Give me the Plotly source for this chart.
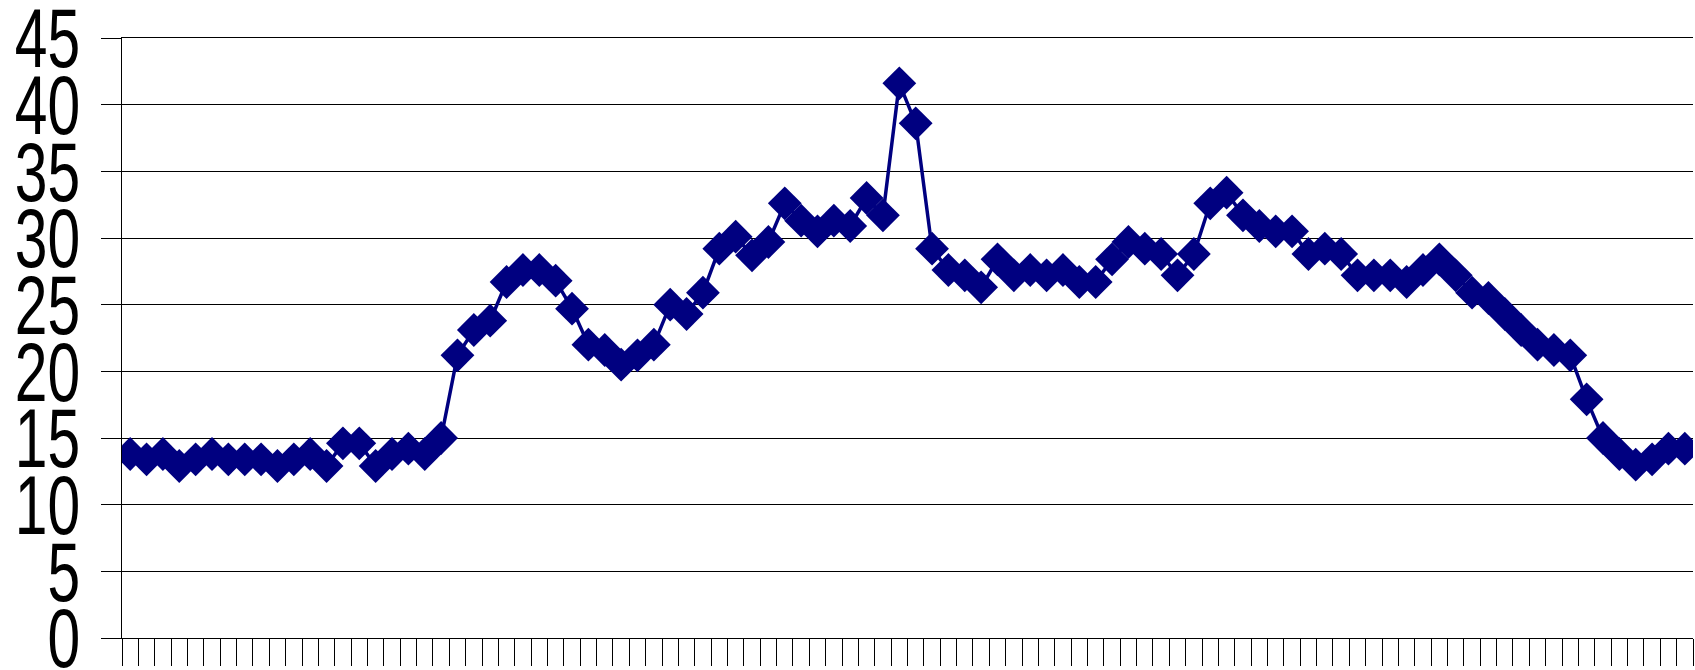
import plotly.graph_objects as go

# Category indices (96 unlabeled categories) and series values
categories = list(range(96))
values = [
    13.8, 13.4, 13.8, 12.9, 13.4, 13.8, 13.4, 13.4, 13.4, 12.9,
    13.4, 13.8, 12.9, 14.6, 14.6, 12.9, 13.8, 14.2, 13.8, 15.0,
    21.2, 23.1, 23.8, 26.7, 27.6, 27.6, 26.8, 24.7, 22.0, 21.6,
    20.5, 21.2, 22.0, 25.0, 24.3, 25.9, 29.2, 30.1, 28.7, 29.7,
    32.6, 31.3, 30.5, 31.3, 30.9, 33.0, 31.7, 41.6, 38.6, 29.2,
    27.6, 27.2, 26.3, 28.4, 27.2, 27.6, 27.2, 27.6, 26.7, 26.7,
    28.4, 29.7, 29.2, 28.8, 27.2, 28.8, 32.6, 33.4, 31.7, 30.9,
    30.5, 30.5, 28.8, 29.2, 28.8, 27.2, 27.2, 27.2, 26.7, 27.6,
    28.4, 27.2, 25.9, 25.5, 24.3, 23.1, 22.0, 21.6, 21.2, 17.9,
    15.0, 13.8, 13.0, 13.4, 14.2, 14.2,
]
y_ticks = [0, 5, 10, 15, 20, 25, 30, 35, 40, 45]

NAVY = "#000080"

# category boundaries for the between-category tick marks
boundaries = [c - 0.5 for c in categories] + [categories[-1] + 0.5]

fig = go.Figure()
fig.add_trace(go.Scatter(
    x=categories, y=values, mode="lines+markers",
    line=dict(color=NAVY, width=3.5),
    marker=dict(symbol="diamond", size=26, color=NAVY, line=dict(width=0)),
    showlegend=False, hoverinfo="skip",
))

fig.update_layout(
    width=1695, height=670,
    margin=dict(l=122, r=2, t=38, b=32, autoexpand=False),
    paper_bgcolor="white", plot_bgcolor="white",
    font=dict(family="Liberation Sans, Arial, sans-serif", color="black"),
)
fig.update_xaxes(
    range=[boundaries[0], boundaries[-1]],
    tickmode="array", tickvals=boundaries,
    ticks="outside", ticklen=27, tickwidth=1, tickcolor="black",
    showticklabels=False, showgrid=False, zeroline=False,
    showline=True, mirror=True, linecolor="black", linewidth=1, automargin=False,
)
fig.update_yaxes(
    range=[0, 45], tickmode="array", tickvals=y_ticks,
    ticktext=[str(t) for t in y_ticks],
    ticks="outside", ticklen=20, tickwidth=1, tickcolor="black",
    showgrid=True, gridcolor="black", gridwidth=1,
    zeroline=False, showline=True, linecolor="black", linewidth=1,
    tickfont=dict(size=84, color="black"),
    ticklabelstandoff=4, ticklabeloverflow="allow", automargin=False,
)

# Remove the page margin, and narrow the tall condensed y tick labels
# horizontally while keeping their right edge fixed
post = """
document.body.style.margin = '0';
document.body.style.padding = '0';
var gd = document.getElementById('{plot_id}');
function squeeze(){
  gd.querySelectorAll('.ytick text').forEach(function(t){
    if (t.getAttribute('data-sq')) return;
    var x = parseFloat(t.getAttribute('x')) || 0;
    var tr = t.getAttribute('transform') || '';
    t.setAttribute('transform', tr + ' translate(' + x + ',0) scale(0.70,1) translate(' + (-x) + ',0)');
    t.setAttribute('data-sq', '1');
  });
}
squeeze();
setTimeout(squeeze, 50);
"""

fig.write_html("out.html", post_script=post, config={"displayModeBar": False})
